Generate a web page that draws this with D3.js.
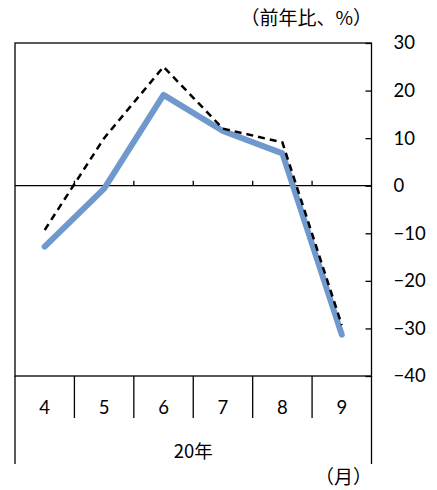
<!DOCTYPE html>
<html><head><meta charset="utf-8">
<script src="https://cdn.jsdelivr.net/npm/d3@7"></script>
<style>
body{margin:0;background:#fff;}
text{font-family:Lato,"Noto Sans CJK JP",sans-serif;fill:#000;}
.jp{font-family:"Noto Sans CJK JP",sans-serif;font-weight:400;}
</style></head>
<body>
<svg id="c" width="437" height="490"></svg>
<script>
const months = ["4","5","6","7","8","9"];
const yearLabel = "20年";
const blueSeries = [-12.8, -0.6, 19.1, 11.5, 6.8, -31.3];
const dashedSeries = [-9.3, 10.0, 25.0, 12.0, 9.1, -29.3];
const yTicks = [30, 20, 10, 0, -10, -20, -30, -40];
const unitLabel = "（前年比、%）";
const monthUnit = "（月）";

const L = 15, R = 371.5, T = 43, B = 376;
const svg = d3.select("#c");
const x = d3.scaleBand().domain(months).range([L, R]).padding(0);
const y = d3.scaleLinear().domain([-40, 30]).range([B, T]);

svg.append("rect").attr("x", L).attr("y", T).attr("width", R - L).attr("height", B - T)
  .attr("fill", "none").attr("stroke", "#000").attr("stroke-width", 1.3);

const ax = svg.append("g").attr("transform", `translate(${R},0)`)
  .call(d3.axisRight(y).tickValues(yTicks).tickSize(-6).tickPadding(22).tickFormat(d3.format("d")));
ax.select(".domain").remove();
ax.selectAll("line").attr("stroke", "#000").attr("stroke-width", 1.3);
ax.selectAll("text").attr("font-size", 18.5).style("font-family", "Lato,sans-serif");

svg.append("line").attr("x1", L).attr("x2", R).attr("y1", y(0)).attr("y2", y(0))
  .attr("stroke", "#000").attr("stroke-width", 1.3);
months.slice(1).forEach(m => {
  svg.append("line").attr("x1", x(m)).attr("x2", x(m)).attr("y1", y(0)).attr("y2", y(0) - 5)
    .attr("stroke", "#000").attr("stroke-width", 1.3);
});

months.slice(1).forEach(m => {
  svg.append("line").attr("x1", x(m)).attr("x2", x(m)).attr("y1", B).attr("y2", 418)
    .attr("stroke", "#000").attr("stroke-width", 1.3);
});
[L, R].forEach(xx => {
  svg.append("line").attr("x1", xx).attr("x2", xx).attr("y1", B).attr("y2", 464)
    .attr("stroke", "#000").attr("stroke-width", 1.3);
});

svg.selectAll(".m").data(months).enter().append("text")
  .attr("x", d => x(d) + x.bandwidth() / 2).attr("y", 414)
  .attr("text-anchor", "middle").attr("font-size", 18.5).text(d => d);
svg.append("text").attr("class", "jp").attr("x", (L + R) / 2).attr("y", 458)
  .attr("text-anchor", "middle").attr("font-size", 18.5).text(yearLabel);
svg.append("text").attr("class", "jp").attr("x", 372).attr("y", 484)
  .attr("text-anchor", "end").attr("font-size", 19).text(monthUnit);
svg.append("text").attr("class", "jp").attr("x", 372).attr("y", 25)
  .attr("text-anchor", "end").attr("font-size", 19).text(unitLabel);

const line = d3.line().x((d, i) => x(months[i]) + x.bandwidth() / 2).y(d => y(d));
svg.append("path").datum(blueSeries).attr("d", line).attr("fill", "none")
  .attr("stroke", "#6f98cc").attr("stroke-width", 6).attr("stroke-linecap", "round").attr("stroke-linejoin", "round");
svg.append("path").datum(dashedSeries).attr("d", line).attr("fill", "none")
  .attr("stroke", "#000").attr("stroke-width", 2.5).attr("stroke-dasharray", "7,5");
</script>
</body></html>
